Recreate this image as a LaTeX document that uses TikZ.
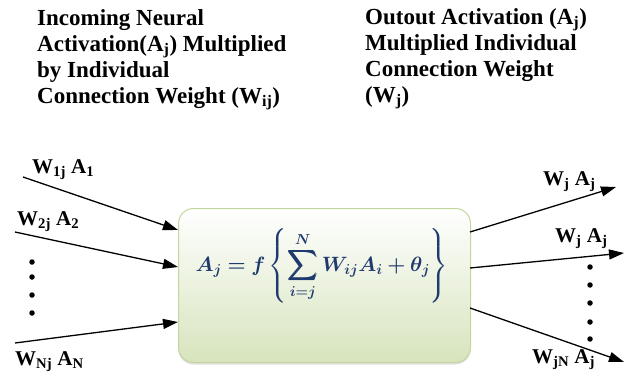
\documentclass[tikz,border=0pt]{standalone}
\usepackage{fontspec}
\usepackage{amsmath,bm}
\setmainfont{Liberation Serif}
\usetikzlibrary{arrows.meta,shadows}
\definecolor{boxline}{HTML}{C3D69B}
\definecolor{boxfill}{HTML}{D7E4BD}
\definecolor{eqblue}{HTML}{1F3A6E}
\tikzset{
  lbl/.style={anchor=base west,inner sep=0pt,font=\fontsize{21}{24}\selectfont\bfseries},
  head/.style={anchor=north west,inner sep=0pt,align=left,font=\fontsize{23}{26}\selectfont\bfseries},
  link/.style={line width=1.3pt,-{Triangle[length=15pt,width=10pt]}},
  dot/.style={circle,fill=black,inner sep=0pt,minimum size=5.5pt}
}
\begin{document}
\begin{tikzpicture}[x=1pt,y=-1pt]
  \useasboundingbox (0,0) rectangle (629,377);
  % --- headings ---
  \node[head] (inhead) at (37,9) {Incoming Neural\\Activation(A\textsubscript{j}) Multiplied\\by Individual\\Connection Weight (W\textsubscript{ij})};
  \node[head] (outhead) at (365,8) {Outout Activation (A\textsubscript{j})\\Multiplied Individual\\Connection Weight\\(W\textsubscript{j})};
  % --- neuron body ---
  \node[draw=boxline,line width=1pt,rounded corners=15pt,top color=white,bottom color=boxfill,
        drop shadow={opacity=0.25,shadow xshift=0pt,shadow yshift=-2pt},
        minimum width=292pt,minimum height=154pt,anchor=north west] (neuron) at (178,208) {};
  \node[text=eqblue,font=\fontsize{22}{26}\selectfont] (eq) at (322,266)
        {$\displaystyle\bm{A_j = f\left\{\sum_{i=j}^{N} W_{ij}A_i+\theta_j\right\}}$};
  % --- inputs ---
  \coordinate (in1) at (23,177);
  \coordinate (in2) at (15,232);
  \coordinate (inN) at (15,343);
  \coordinate (e1) at (178,230);
  \coordinate (e2) at (178,267);
  \coordinate (eN) at (178,322);
  \draw[link] (in1) -- (e1);
  \draw[link] (in2) -- (e2);
  \draw[link] (inN) -- (eN);
  \node[lbl] (w1) at (32,173) {W\textsubscript{1j} A\textsubscript{1}};
  \node[lbl] (w2) at (17,225) {W\textsubscript{2j} A\textsubscript{2}};
  \node[lbl] (wN) at (15,365) {W\textsubscript{Nj} A\textsubscript{N}};
  \foreach \y [count=\k] in {262,277,295,313} \node[dot] (ld\k) at (32,\y) {};
  % --- outputs ---
  \coordinate (s1) at (470,232);
  \coordinate (s2) at (470,268);
  \coordinate (sN) at (470,308);
  \coordinate (out1) at (616,187);
  \coordinate (out2) at (624,253);
  \coordinate (outN) at (624,362);
  \draw[link] (s1) -- (out1);
  \draw[link] (s2) -- (out2);
  \draw[link] (sN) -- (outN);
  \node[lbl] (v1) at (543,185) {W\textsubscript{j} A\textsubscript{j}};
  \node[lbl] (v2) at (555,242) {W\textsubscript{j} A\textsubscript{j}};
  \node[lbl] (vN) at (532,363) {W\textsubscript{jN} A\textsubscript{j}};
  \foreach \y [count=\k] in {267,285,303,322,339} \node[dot] (rd\k) at (590,\y) {};
\end{tikzpicture}
\end{document}
